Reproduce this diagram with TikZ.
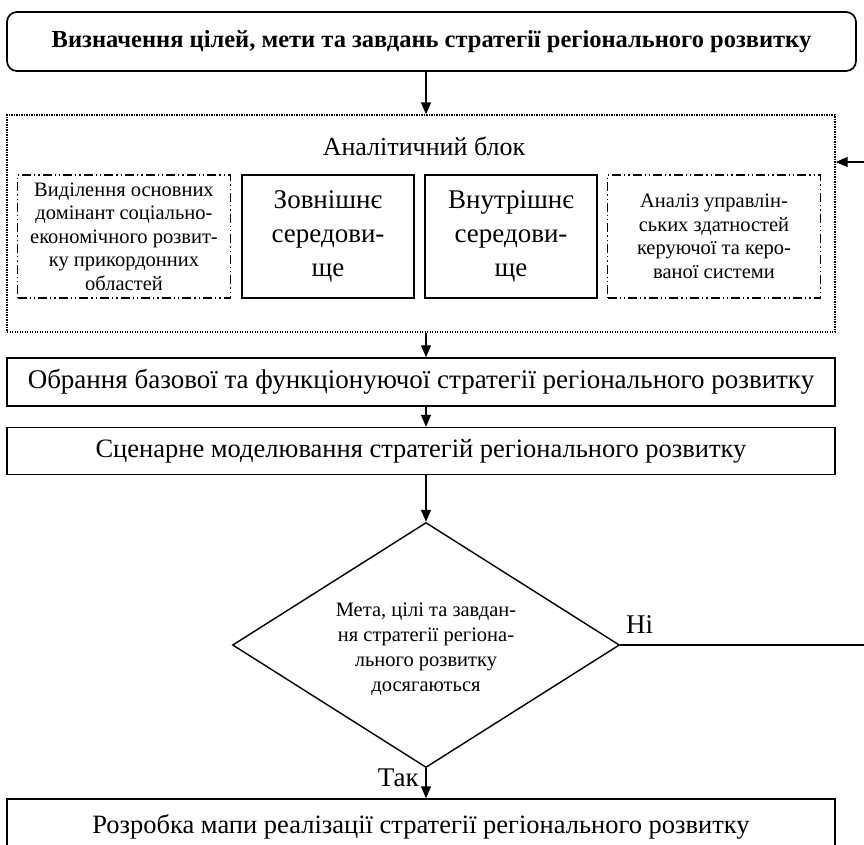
\documentclass[tikz,border=0pt]{standalone}
\usepackage{fontspec}
\setmainfont{Liberation Serif}
\usetikzlibrary{arrows.meta,shapes.geometric}
\begin{document}
\begin{tikzpicture}[x=1pt,y=-1pt,
  arr/.style={-{Triangle[length=12pt,width=10pt]},line width=1.3pt},
  box/.style={draw,line width=1.4pt,inner sep=0pt},
  ddbox/.style={draw,line width=1.3pt,inner sep=0pt,dash pattern=on 9pt off 3pt on 1.3pt off 3pt on 1.3pt off 3pt},
  bigtxt/.style={font=\fontsize{26.5}{30}\selectfont},
  midtxt/.style={font=\fontsize{20.5}{23.5}\selectfont,align=center},
  lrgtxt/.style={font=\fontsize{27}{34}\selectfont,align=center}]
\useasboundingbox (0,0) rectangle (864,844);
\node[box,rounded corners=10pt,line width=1.7pt,minimum width=849pt,minimum height=59pt,font=\bfseries\fontsize{24.5}{28}\selectfont] (top) at (431.5,41.5) {Визначення цілей, мети та завдань стратегії регіонального розвитку};
\node[draw,line width=1.3pt,dash pattern=on 1.3pt off 1.2pt,minimum width=828pt,minimum height=217pt,inner sep=0pt] (anal) at (421,223.5) {};
\node[font=\fontsize{26}{30}\selectfont] (title) at (424,146) {Аналітичний блок};
\node[ddbox,minimum width=213pt,minimum height=123pt,midtxt] (b1) at (124,236.5) {Виділення основних\\домінант соціально-\\економічного розвит-\\ку прикордонних\\областей};
\node[box,minimum width=172pt,minimum height=123pt,lrgtxt] (b2) at (328,236.5) {Зовнішнє\\середови-\\ще};
\node[box,minimum width=172pt,minimum height=123pt,lrgtxt] (b3) at (511,236.5) {Внутрішнє\\середови-\\ще};
\node[ddbox,minimum width=213pt,minimum height=123pt,midtxt] (b4) at (714,236.5) {Аналіз управлін-\\ських здатностей\\керуючої та керо-\\ваної системи};
\node[box,minimum width=828pt,minimum height=48pt,font=\fontsize{27}{30}\selectfont] (sel) at (421,382) {Обрання базової та функціонуючої стратегії регіонального розвитку};
\node[box,minimum width=828pt,minimum height=47pt,bigtxt] (scen) at (421,451) {Сценарне моделювання стратегій регіонального розвитку};
\node[diamond,draw,line width=1.4pt,minimum width=387pt,minimum height=245pt,inner sep=0pt,shape aspect=1.6] (dia) at (426,645) {};
\node[font=\fontsize{20.5}{25}\selectfont,align=center] (diatxt) at ([yshift=-4pt]dia.center) {Мета, цілі та завдан-\\ня стратегії регіона-\\льного розвитку\\досягаються};
\node[box,minimum width=828pt,minimum height=56pt,bigtxt] (last) at (421,827) {Розробка мапи реалізації стратегії регіонального розвитку};
\coordinate (noend) at (866,645);
\coordinate (back) at (866,162);
\draw[arr] (top.south -| dia.north) -- (anal.north -| dia.north);
\draw[arr] (anal.south -| dia.north) -- (sel.north -| dia.north);
\draw[arr] (sel.south -| dia.north) -- (scen.north -| dia.north);
\draw[arr] (scen.south -| dia.north) -- (dia.north);
\draw[line width=1.4pt] (dia.east) -- (noend);
\draw[arr] (back) -- (back -| anal.east);
\draw[arr] (dia.south) -- (last.north -| dia.south);
\node[font=\fontsize{27}{30}\selectfont,anchor=base west,inner sep=0pt] (no) at (626,633) {Ні};
\node[font=\fontsize{27}{30}\selectfont,anchor=base east,inner sep=0pt] (yes) at (419,786) {Так};
\end{tikzpicture}
\end{document}
